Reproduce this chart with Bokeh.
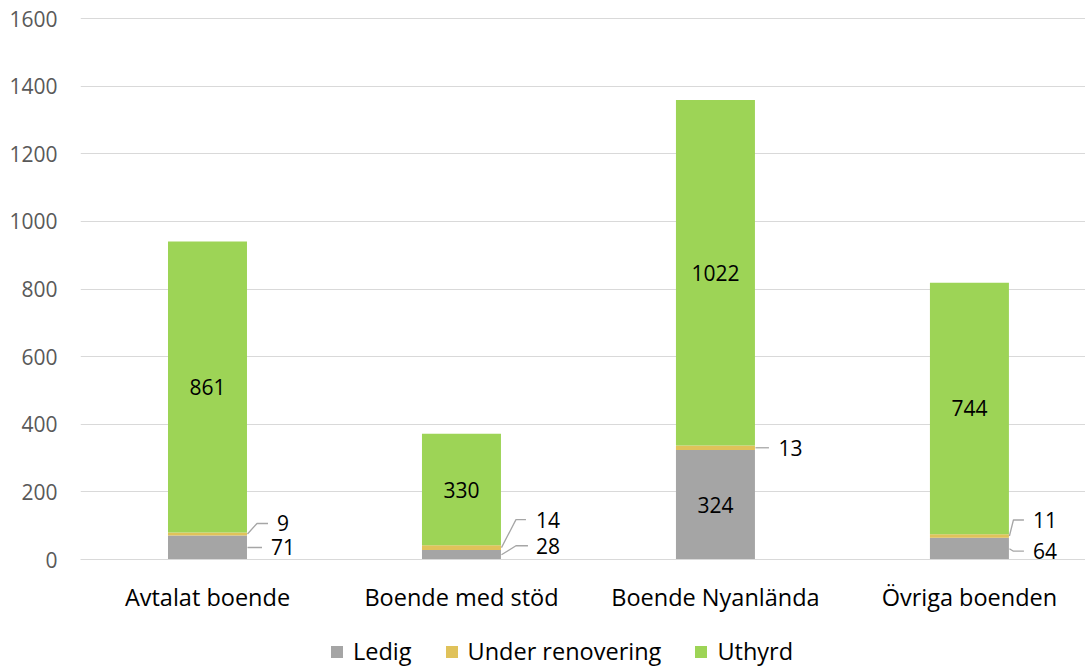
from bokeh.plotting import figure
from bokeh.layouts import column
from bokeh.models import ColumnDataSource, FixedTicker, Legend, LegendItem, Range1d
from bokeh.core.properties import value
from bokeh.embed import file_html
from bokeh.resources import INLINE

# --- data -------------------------------------------------------------------
categories = ["Avtalat boende", "Boende med stöd", "Boende Nyanlända", "Övriga boenden"]
ledig = [71, 28, 324, 64]
under_renovering = [9, 14, 13, 11]
uthyrd = [861, 330, 1022, 744]
series_names = ["Ledig", "Under renovering", "Uthyrd"]
series_colors = ["#A5A5A5", "#E0C25A", "#9DD456"]
y_ticks = [0, 200, 400, 600, 800, 1000, 1200, 1400, 1600]

# --- layout constants -------------------------------------------------------
FONT = "Open Sans"
FS_NUM = "21px"      # numbers: tick labels and data labels
FS_TXT = "23.5px"    # words: category labels and legend
W = 1085
H_MAIN, H_LEGEND = 615, 52
B_LEFT, B_RIGHT, B_TOP, B_BOTTOM = 80, 0, 10, 56
FRAME_W = W - B_LEFT - B_RIGHT
FRAME_H = H_MAIN - B_TOP - B_BOTTOM
X0, X1 = 0.0, 3.957
Y0, Y1 = 0.0, 1624.0
BAR_W = 0.311
PX_X = FRAME_W / (X1 - X0)
PX_Y = FRAME_H / (Y1 - Y0)

xs = [i + 0.5 for i in range(len(categories))]
series = [ledig, under_renovering, uthyrd]

p = figure(width=W, height=H_MAIN, output_backend="svg", toolbar_location=None,
           x_range=Range1d(X0, X1), y_range=Range1d(Y0, Y1),
           min_border_left=B_LEFT, min_border_right=B_RIGHT,
           min_border_top=B_TOP, min_border_bottom=B_BOTTOM)
p.outline_line_color = None
p.background_fill_color = "white"
p.border_fill_color = "white"

# axes and grid
p.xgrid.grid_line_color = None
p.ygrid.grid_line_color = "#D9D9D9"
p.ygrid.grid_line_width = 1
p.yaxis.ticker = FixedTicker(ticks=y_ticks)
p.yaxis.axis_line_color = None
p.yaxis.major_tick_line_color = None
p.yaxis.minor_tick_line_color = None
p.yaxis.major_tick_out = 0
p.yaxis.minor_tick_out = 0
p.yaxis.major_label_standoff = 23
p.yaxis.major_label_text_font = FONT
p.yaxis.major_label_text_font_size = FS_NUM
p.yaxis.major_label_text_color = "#595959"

p.xaxis.ticker = FixedTicker(ticks=xs)
p.xaxis.major_label_overrides = {x: c for x, c in zip(xs, categories)}
p.xaxis.axis_line_color = "#D9D9D9"
p.xaxis.axis_line_width = 1
p.xaxis.major_tick_line_color = None
p.xaxis.minor_tick_line_color = None
p.xaxis.major_tick_out = 0
p.xaxis.minor_tick_out = 0
p.xaxis.major_label_standoff = 21
p.xaxis.major_label_text_font = FONT
p.xaxis.major_label_text_font_size = FS_TXT
p.xaxis.major_label_text_color = "#000000"

# stacked bars
src = ColumnDataSource(dict(x=xs, **{n: v for n, v in zip(series_names, series)}))
p.vbar_stack(series_names, x="x", width=BAR_W, color=series_colors,
             line_color=None, source=src)

# segment bounds
bottoms, tops = [], []
for i in range(len(categories)):
    acc = 0
    b, t = [], []
    for s in series:
        b.append(acc)
        acc += s[i]
        t.append(acc)
    bottoms.append(b)
    tops.append(t)

# labels drawn inside the segments: (category, series)
inside_pairs = [(0, 2), (1, 2), (2, 0), (2, 2), (3, 2)]
in_x, in_y, in_t = [], [], []
for ci, si in inside_pairs:
    in_x.append(xs[ci])
    in_y.append((bottoms[ci][si] + tops[ci][si]) / 2)
    in_t.append(str(series[si][ci]))
p.text(x=in_x, y=in_y, text=in_t, text_align="center", text_baseline="middle",
       text_font=value(FONT), text_font_size=FS_NUM, text_color="#000000")

# labels placed beside the bar with leader lines (offsets in pixels)
# (category, series): (label_dy, elbow_dx, line_end_dx, label_dx)
outside = {
    (0, 0): (0, 0, 14.5, 23.5),
    (0, 1): (-10.5, 9.5, 20.5, 29.5),
    (1, 0): (-9, 14.5, 26.5, 34.5),
    (1, 1): (-28, 14.5, 24.5, 34.5),
    (2, 1): (0, 0, 13.5, 23),
    (3, 0): (2.5, 4, 14.5, 23.5),
    (3, 1): (-16, 4, 14.5, 23.5),
}
lx, ly, lt, mxs, mys = [], [], [], [], []
for (ci, si), (dy, ex, end, ldx) in outside.items():
    x_edge = xs[ci] + BAR_W / 2 + 0.5 / PX_X
    y_mid = (bottoms[ci][si] + tops[ci][si]) / 2
    y_lab = y_mid - dy / PX_Y
    mxs.append([x_edge, x_edge + ex / PX_X, x_edge + end / PX_X])
    mys.append([y_mid, y_lab, y_lab])
    lx.append(x_edge + ldx / PX_X)
    ly.append(y_lab)
    lt.append(str(series[si][ci]))
p.multi_line(xs=mxs, ys=mys, line_color="#A6A6A6", line_width=1.3)
p.text(x=lx, y=ly, text=lt, text_align="left", text_baseline="middle",
       text_font=value(FONT), text_font_size=FS_NUM, text_color="#000000")

# legend strip under the chart (its frame lines up with the chart frame)
lg = figure(width=W, height=H_LEGEND, output_backend="svg", toolbar_location=None,
            x_range=Range1d(0, 1), y_range=Range1d(0, 1),
            min_border=0, x_axis_type=None, y_axis_type=None)
lg.outline_line_color = None
lg.xgrid.grid_line_color = None
lg.ygrid.grid_line_color = None
# swatch renderers sit outside the visible range; only their legend glyphs show
swatches = [lg.vbar(x=[5], top=[1], width=0.1, color=c, line_color=None) for c in series_colors]
legend = Legend(items=[LegendItem(label=n, renderers=[r]) for n, r in zip(series_names, swatches)],
                orientation="horizontal", location=(249, 0))
legend.glyph_width = 15
legend.glyph_height = 15
legend.label_standoff = 9
legend.spacing = 32
legend.padding = 0
legend.margin = 0
legend.border_line_color = None
legend.background_fill_alpha = 0
legend.label_text_font = FONT
legend.label_text_font_size = FS_TXT
legend.label_text_color = "#000000"
lg.add_layout(legend)

layout = column(p, lg, spacing=0)
open("out.html", "w").write(file_html(layout, INLINE))
